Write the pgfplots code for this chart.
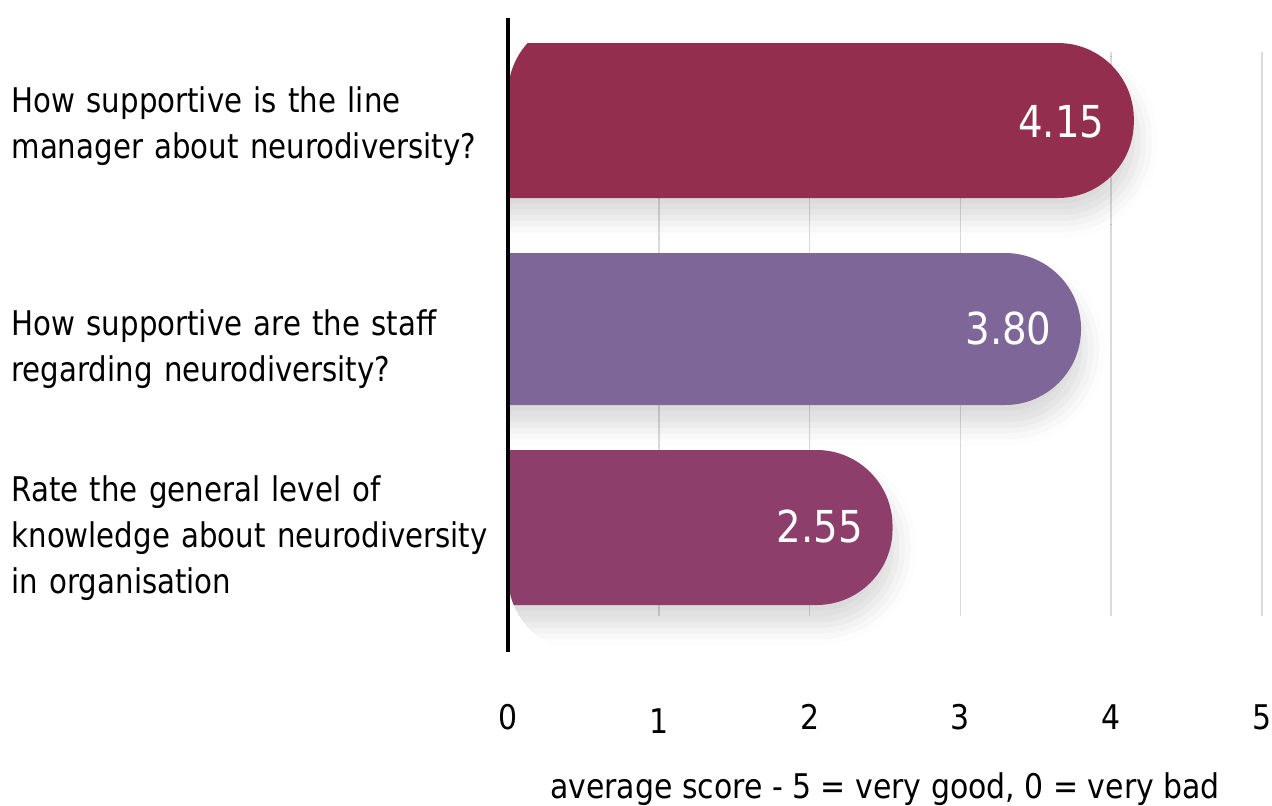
\documentclass[border=0pt]{standalone}
\usepackage{fontspec}
\setmainfont{DejaVu Sans}[FakeStretch=0.88]
\newfontfamily\labelfont{DejaVu Sans}[FakeStretch=0.86]
\usepackage{pgfplots}
\pgfplotsset{compat=1.18}
\usetikzlibrary{shadows.blur}
\definecolor{barA}{RGB}{147,46,79}
\definecolor{barB}{RGB}{126,103,152}
\definecolor{barC}{RGB}{141,62,106}
\tikzset{barshadow/.style={blur shadow={shadow xshift=2pt, shadow yshift=-10pt, shadow blur radius=10pt, shadow opacity=15}}}
\begin{document}
\begin{tikzpicture}
\begin{axis}[
 at={(0,0)}, anchor=south west,
 scale only axis, width=377pt, height=317pt,
 xmin=0, xmax=5, ymin=0, ymax=6.34,
 clip mode=individual,
 axis x line*=bottom, x axis line style={draw=none},
 axis y line*=left, y axis line style={draw=none},
 xtick={0,...,5}, xticklabels={0,\raisebox{-2pt}{1},2,3,4,5},
 major tick length=0pt,
 xticklabel style={font=\fontsize{17}{20}\selectfont, anchor=base, yshift=-38.5pt},
 ytick={1.14,3.03,5.26},
 yticklabels={Rate the general level of\\knowledge about neurodiversity\\in organisation, How supportive are the staff\\regarding neurodiversity?, How supportive is the line\\manager about neurodiversity?},
 yticklabel style={font=\labelfont\fontsize{17}{23}\selectfont, text width=248pt, align=left, inner sep=0pt, anchor=east},
 xlabel={average score - 5 = very good, 0 = very bad},
 xlabel style={font=\fontsize{17}{20}\selectfont, at={(axis description cs:0.5,0)}, anchor=base, yshift=-73pt},
]
\pgfplotsinvokeforeach{1,2,3,4,5}{\draw[black!14, line width=0.75pt] (axis cs:#1,0.36) -- (axis cs:#1,6.00);}
\addplot[fill=barA, draw=none, rounded corners=38pt, barshadow] coordinates {(-1,4.54) (4.15,4.54) (4.15,6.09) (-1,6.09)} --cycle;
\addplot[fill=barB, draw=none, rounded corners=38pt, barshadow] coordinates {(-1,2.47) (3.80,2.47) (3.80,3.99) (-1,3.99)} --cycle;
\addplot[fill=barC, draw=none, rounded corners=38pt, barshadow] coordinates {(-1,0.47) (2.55,0.47) (2.55,2.02) (-1,2.02)} --cycle;
\addplot[draw=none, mark=none, nodes near coords, point meta=explicit symbolic,
  nodes near coords style={anchor=east, inner sep=0pt, xshift=-14.5pt, text=white, font=\fontsize{22}{26}\selectfont}]
  coordinates {(4.15,5.30)[4.15] (3.80,3.24)[3.80] (2.55,1.26)[2.55]};
\draw[line width=2pt] (axis cs:0,0) -- (axis cs:0,6.34);
\end{axis}
\pgfresetboundingbox
\path (-254pt,-76.5pt) rectangle (382pt,326pt);
\end{tikzpicture}
\end{document}
